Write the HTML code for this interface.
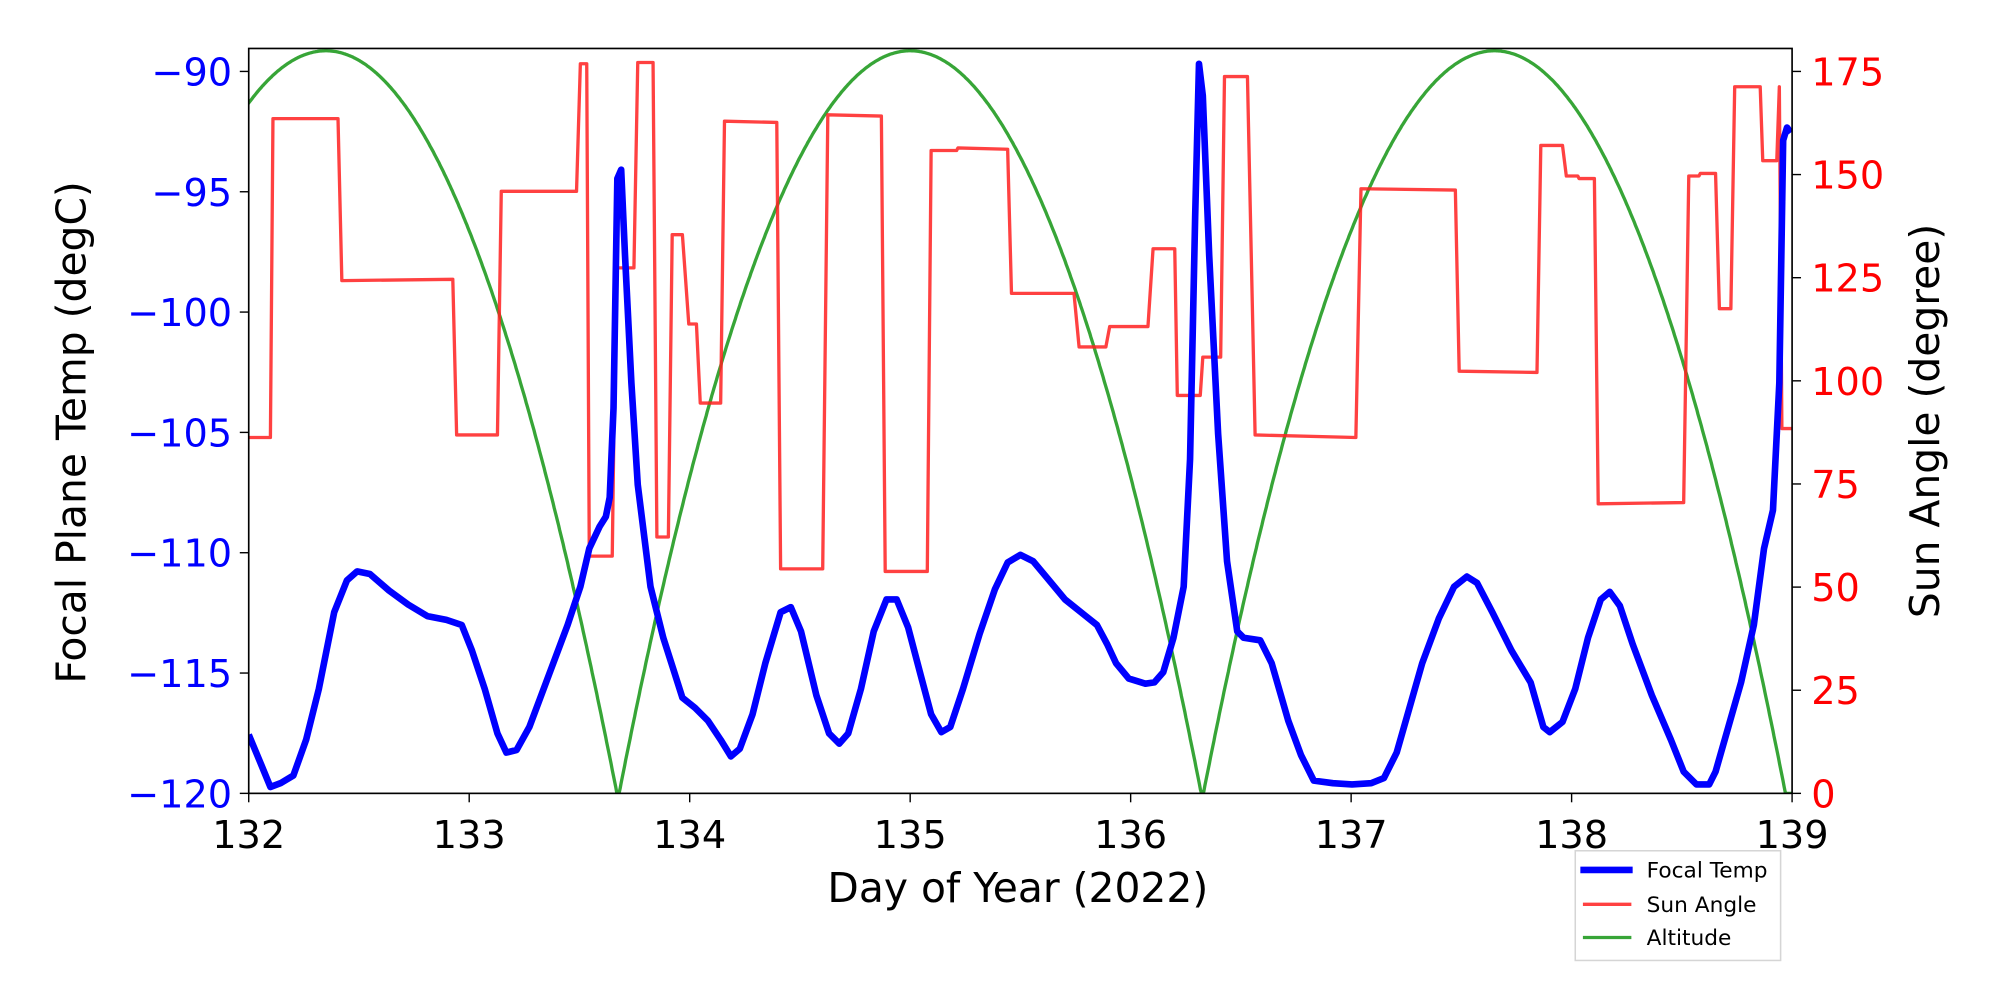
<!DOCTYPE html>
<html><head><meta charset="utf-8"><style>
html,body{margin:0;padding:0;background:#fff;}
svg{display:block;}
text{font-family:"DejaVu Sans","Liberation Sans",sans-serif;}
</style></head><body>
<svg id="s" width="2000" height="1000" viewBox="0 0 1568 784" xmlns="http://www.w3.org/2000/svg">
<rect width="1568" height="784" fill="#fff"/>
<defs><clipPath id="c"><rect x="195" y="38" width="1210" height="584"/></clipPath></defs>
<g clip-path="url(#c)">
<path id="alt" fill="none" stroke="#2ca02c" stroke-opacity="0.95" stroke-width="2.6" d=""/>
<polyline fill="none" stroke="#ff2020" stroke-opacity="0.85" stroke-width="2.6" stroke-linejoin="round" points="195,343 212,343 214,93 265,93 268,220 355,219 358,341 390,341 393,150 452,150 455,50 460,50 462,436 480,436 483,210 497,210 500,49 512,49 515,421 524,421 527,184 535,184 540,254 546,254 549,316 565,316 568,95 609,96 612,446 645,446 649,90 691,91 694,448 727,448 730,118 750,118 751,116 790,117 793,230 842,230 846,272 867,272 870,256 900,256 904,195 921,195 923,310 941,310 943,280 957,280 960,60 978,60 984,341 1063,343 1067,148 1141,149 1144,291 1205,292 1208,114 1225,114 1228,138 1237,138 1238,140 1250,140 1253,395 1320,394 1324,138 1332,138 1333,136 1345,136 1348,242 1357,242 1360,68 1380,68 1382,126 1393,126 1395,68 1397,336 1405,336"/>
<polyline fill="none" stroke="#0000ff" stroke-width="5.2" stroke-linejoin="round" points="195,576 205,600 212,617 220,614 230,608 240,580 250,540 262,480 272,455 280,448 290,450 305,463 320,474 335,483 350,486 362,490 370,510 380,540 390,575 397,590 405,588 415,570 430,530 445,490 455,460 462,430 470,413 475,405 478,390 481,320 484,140 487,133 490,200 495,300 500,380 510,460 520,500 528,525 535,547 545,555 555,565 565,580 573,593 580,587 590,560 600,520 612,480 620,476 628,495 640,545 650,575 658,583 665,575 675,540 685,495 695,470 703,470 712,492 722,530 730,560 738,574 745,570 755,540 768,497 780,462 790,441 800,435 810,440 820,452 835,470 850,482 860,490 868,505 875,520 885,532 898,536 905,535 912,527 920,500 928,460 933,360 937,170 940,50 943,75 948,200 955,340 962,440 970,495 975,500 988,502 997,520 1010,565 1020,592 1030,612 1045,614 1060,615 1075,614 1085,610 1095,590 1105,555 1115,520 1128,485 1140,460 1150,452 1158,457 1170,480 1185,510 1200,535 1210,570 1215,574 1225,566 1235,540 1245,500 1255,470 1262,464 1270,475 1280,505 1295,545 1310,580 1320,605 1330,615 1340,615 1345,605 1355,570 1365,535 1375,490 1383,430 1390,400 1395,300 1398,110 1401,100 1404,104"/>
</g>
<rect x="195" y="38" width="1210" height="584" fill="none" stroke="#000" stroke-width="1.3"/>
<g id="ticks" stroke="#000" stroke-width="1.1"></g>
<g id="labels"></g>
<text x="67" y="339" font-size="32" text-anchor="middle" transform="rotate(-90 67 339)">Focal Plane Temp (degC)</text>
<text x="1520" y="330" font-size="32" text-anchor="middle" transform="rotate(-90 1520 330)">Sun Angle (degree)</text>
<text x="798" y="707" font-size="32" text-anchor="middle">Day of Year (2022)</text>
<rect x="1235" y="667" width="161" height="86" fill="#fff" stroke="#d5d5d5" stroke-width="1.2"/>
<line x1="1239" y1="682" x2="1280" y2="682" stroke="#0000ff" stroke-width="5.2"/>
<line x1="1241" y1="709" x2="1279" y2="709" stroke="#ff2020" stroke-opacity="0.85" stroke-width="2.6"/>
<line x1="1241" y1="735" x2="1279" y2="735" stroke="#2ca02c" stroke-opacity="0.95" stroke-width="2.6"/>
<text x="1291" y="688" font-size="17">Focal Temp</text>
<text x="1291" y="715" font-size="17">Sun Angle</text>
<text x="1291" y="741" font-size="17">Altitude</text>
</svg>
<script>
(function(){
var NS="http://www.w3.org/2000/svg";
function X(d){return 195+(d-132)*172.857;}
function Ya(a){return 622-a*(566/175);}
var peaks=[132.35,135.0,137.65];
var d="";
for(var i=0;i<=1400;i++){
 var t=131.95+i*7.1/1400,a;
 var p=peaks.reduce(function(b,q){return Math.abs(q-t)<Math.abs(b-t)?q:b;});
 var h=1.32, u=(t-p)/h; a=180*(1-u*u); if(a<0)a=0;
 d+=(i?"L":"M")+X(t).toFixed(1)+","+Ya(a).toFixed(1);
}
document.getElementById("alt").setAttribute("d",d);
var tk=document.getElementById("ticks"),lb=document.getElementById("labels");
function ln(x1,y1,x2,y2){var l=document.createElementNS(NS,"line");l.setAttribute("x1",x1);l.setAttribute("y1",y1);l.setAttribute("x2",x2);l.setAttribute("y2",y2);tk.appendChild(l);}
function tx(x,y,s,anc,col){var t=document.createElementNS(NS,"text");t.setAttribute("x",x);t.setAttribute("y",y);t.setAttribute("font-size","30");t.setAttribute("text-anchor",anc);t.setAttribute("fill",col);t.textContent=s;lb.appendChild(t);}
for(var k=0;k<=7;k++){var x=X(132+k);ln(x,622,x,629);tx(x,665,String(132+k),"middle","#000");}
for(var k=0;k<=6;k++){var v=-90-5*k,y=56+k*566/6;ln(188,y,195,y);tx(182,y+11,"\u2212"+(-v),"end","#0000ff");}
for(var k=0;k<=7;k++){var a=25*k,y=Ya(a);ln(1405,y,1412,y);tx(1420,y+11,String(a),"start","#ff0000");}
})();
</script>
</body></html>
